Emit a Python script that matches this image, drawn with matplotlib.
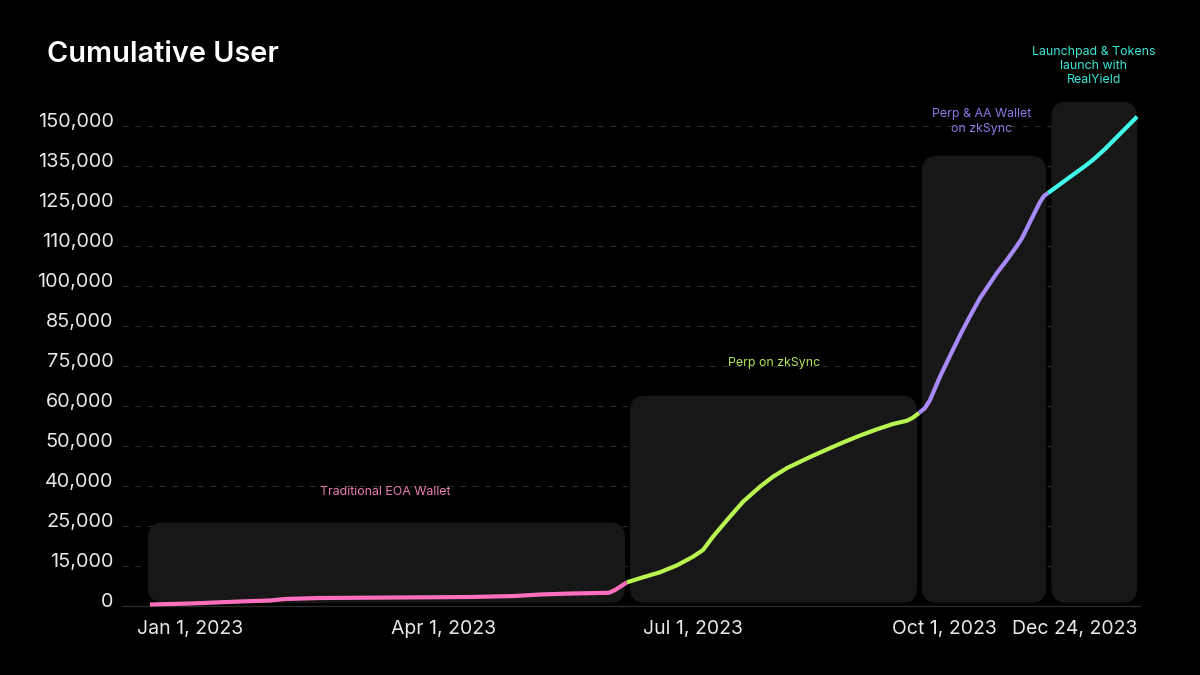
import matplotlib.pyplot as plt
from matplotlib.patches import FancyBboxPatch
from matplotlib.transforms import ScaledTranslation

plt.rcParams['font.family'] = ['Inter', 'DejaVu Sans']

# days since Jan 1 2023, cumulative users
pink_days = [0, 14.5, 32.5, 43.4, 48.8, 61.5, 90.4, 115.7, 132, 141, 152, 166, 168.2, 170.7, 172.5]
pink_users = [470, 780, 1400, 1720, 2190, 2500, 2660, 2810, 3125, 3590, 3900, 4125, 5000, 6400, 7406]

green_days = [172.5, 178.3, 184.4, 190.6, 196.4, 200, 203.6, 208.7, 214.5, 220.6, 225.3, 230.4,
              238.7, 244.8, 250.6, 256.8, 262.9, 268.7, 273.8, 275.9, 278.1]
green_users = [7406, 8970, 10530, 12720, 15410, 17500, 21660, 26875, 32600, 37280, 40400, 43125,
               46560, 48906, 51094, 53281, 55220, 56875, 57910, 58840, 60310]

purple_days = [278.1, 280.3, 282.1, 285.7, 289.3, 293, 296.6, 300.2, 306.3, 309.9, 313.5, 315.4,
               317.2, 319.7, 321.9, 323.3, 324.8]
purple_users = [60310, 61875, 64375, 71650, 78125, 84690, 90625, 96250, 104060, 108125, 112500, 115000,
                118125, 122500, 126250, 128125, 129060]

cyan_days = [324.8, 332.7, 338.2, 341, 345.4, 349, 357]
cyan_users = [129060, 134060, 137500, 139375, 142810, 145940, 152900]

y_ticks = [0, 12500, 25000, 37500, 50000, 62500, 75000, 87500, 100000, 112500, 125000, 137500, 150000]
y_labels = ['0', '15,000', '25,000', '40,000', '50,000', '60,000', '75,000', '85,000',
            '100,000', '110,000', '125,000', '135,000', '150,000']

x_label_days = [14.5, 106, 196.3, 287.2, 334.6]
x_labels = ['Jan 1, 2023', 'Apr 1, 2023', 'Jul 1, 2023', 'Oct 1, 2023', 'Dec 24, 2023']

# phase backgrounds: start day, end day, top
panel_start = [-0.7, 173.6, 279.2, 326]
panel_end = [171.8, 277.4, 324.1, 357]
panel_top = [26090, 65720, 140720, 157600]

PINK = '#ff6fbd'
GREEN = '#b8f550'
PURPLE = '#a78bfa'
CYAN = '#3ffbe8'

fig = plt.figure(figsize=(12, 6.75), dpi=100, facecolor='black')
ax = fig.add_axes([122 / 1200, 1 - 606 / 675, (1140 - 122) / 1200, (606 - 90) / 675])
ax.set_facecolor('black')
ax.set_xlim(-10.13, 358.05)
ax.set_ylim(0, 161250)

ax.hlines(y_ticks[1:], -10.13, 357, color='#2a2a2a', lw=0.72, linestyles=[(0, (6, 6.5))], zorder=1)

for s, e, t in zip(panel_start, panel_end, panel_top):
    ax.add_patch(FancyBboxPatch((s, 940), e - s, t - 940,
                                boxstyle='round,pad=0,rounding_size=5.6',
                                mutation_aspect=864, fc='#171717', ec='none', zorder=2))

for d, u, c in [(pink_days, pink_users, PINK), (green_days, green_users, GREEN),
                (purple_days, purple_users, PURPLE), (cyan_days, cyan_users, CYAN)]:
    ax.plot(d, u, color=c, lw=3, solid_capstyle='butt', solid_joinstyle='round', zorder=3, clip_on=False)

for side in ['top', 'right', 'left']:
    ax.spines[side].set_visible(False)
ax.spines['bottom'].set_color('#2a2a2a')
ax.spines['bottom'].set_linewidth(1)

ax.set_yticks(y_ticks)
ax.set_yticklabels(y_labels, fontsize=14.3, color='#e8e8e8')
ax.set_xticks(x_label_days)
ax.set_xticklabels(x_labels, fontsize=14, color='#e8e8e8')
ax.tick_params(axis='both', length=0)
ax.tick_params(axis='y', pad=6)
ax.tick_params(axis='x', pad=10)
for lab in ax.get_yticklabels():
    lab.set_transform(lab.get_transform() + ScaledTranslation(0, 6 / 100, fig.dpi_scale_trans))

fig.text(47 / 1200, 1 - 55 / 675, 'Cumulative User', color='white', fontsize=20.8,
         fontweight='semibold', va='center', ha='left')

ax.text(85.2, 35500, 'Traditional EOA Wallet', color='#e87fb0', fontsize=8.9, ha='center', va='center')
ax.text(225.7, 75800, 'Perp on zkSync', color='#b4e85a', fontsize=8.9, ha='center', va='center')
ax.text(300.9, 151400, 'Perp & AA Wallet\non zkSync', color='#8f78e6', fontsize=8.9, ha='center',
        va='center', linespacing=1.25, clip_on=False)
ax.text(341.4, 168700, 'Launchpad & Tokens\nlaunch with\nRealYield', color='#3de8d8', fontsize=8.9,
        ha='center', va='center', linespacing=1.25, clip_on=False)

fig.savefig('out.png', dpi=100, facecolor='black')
